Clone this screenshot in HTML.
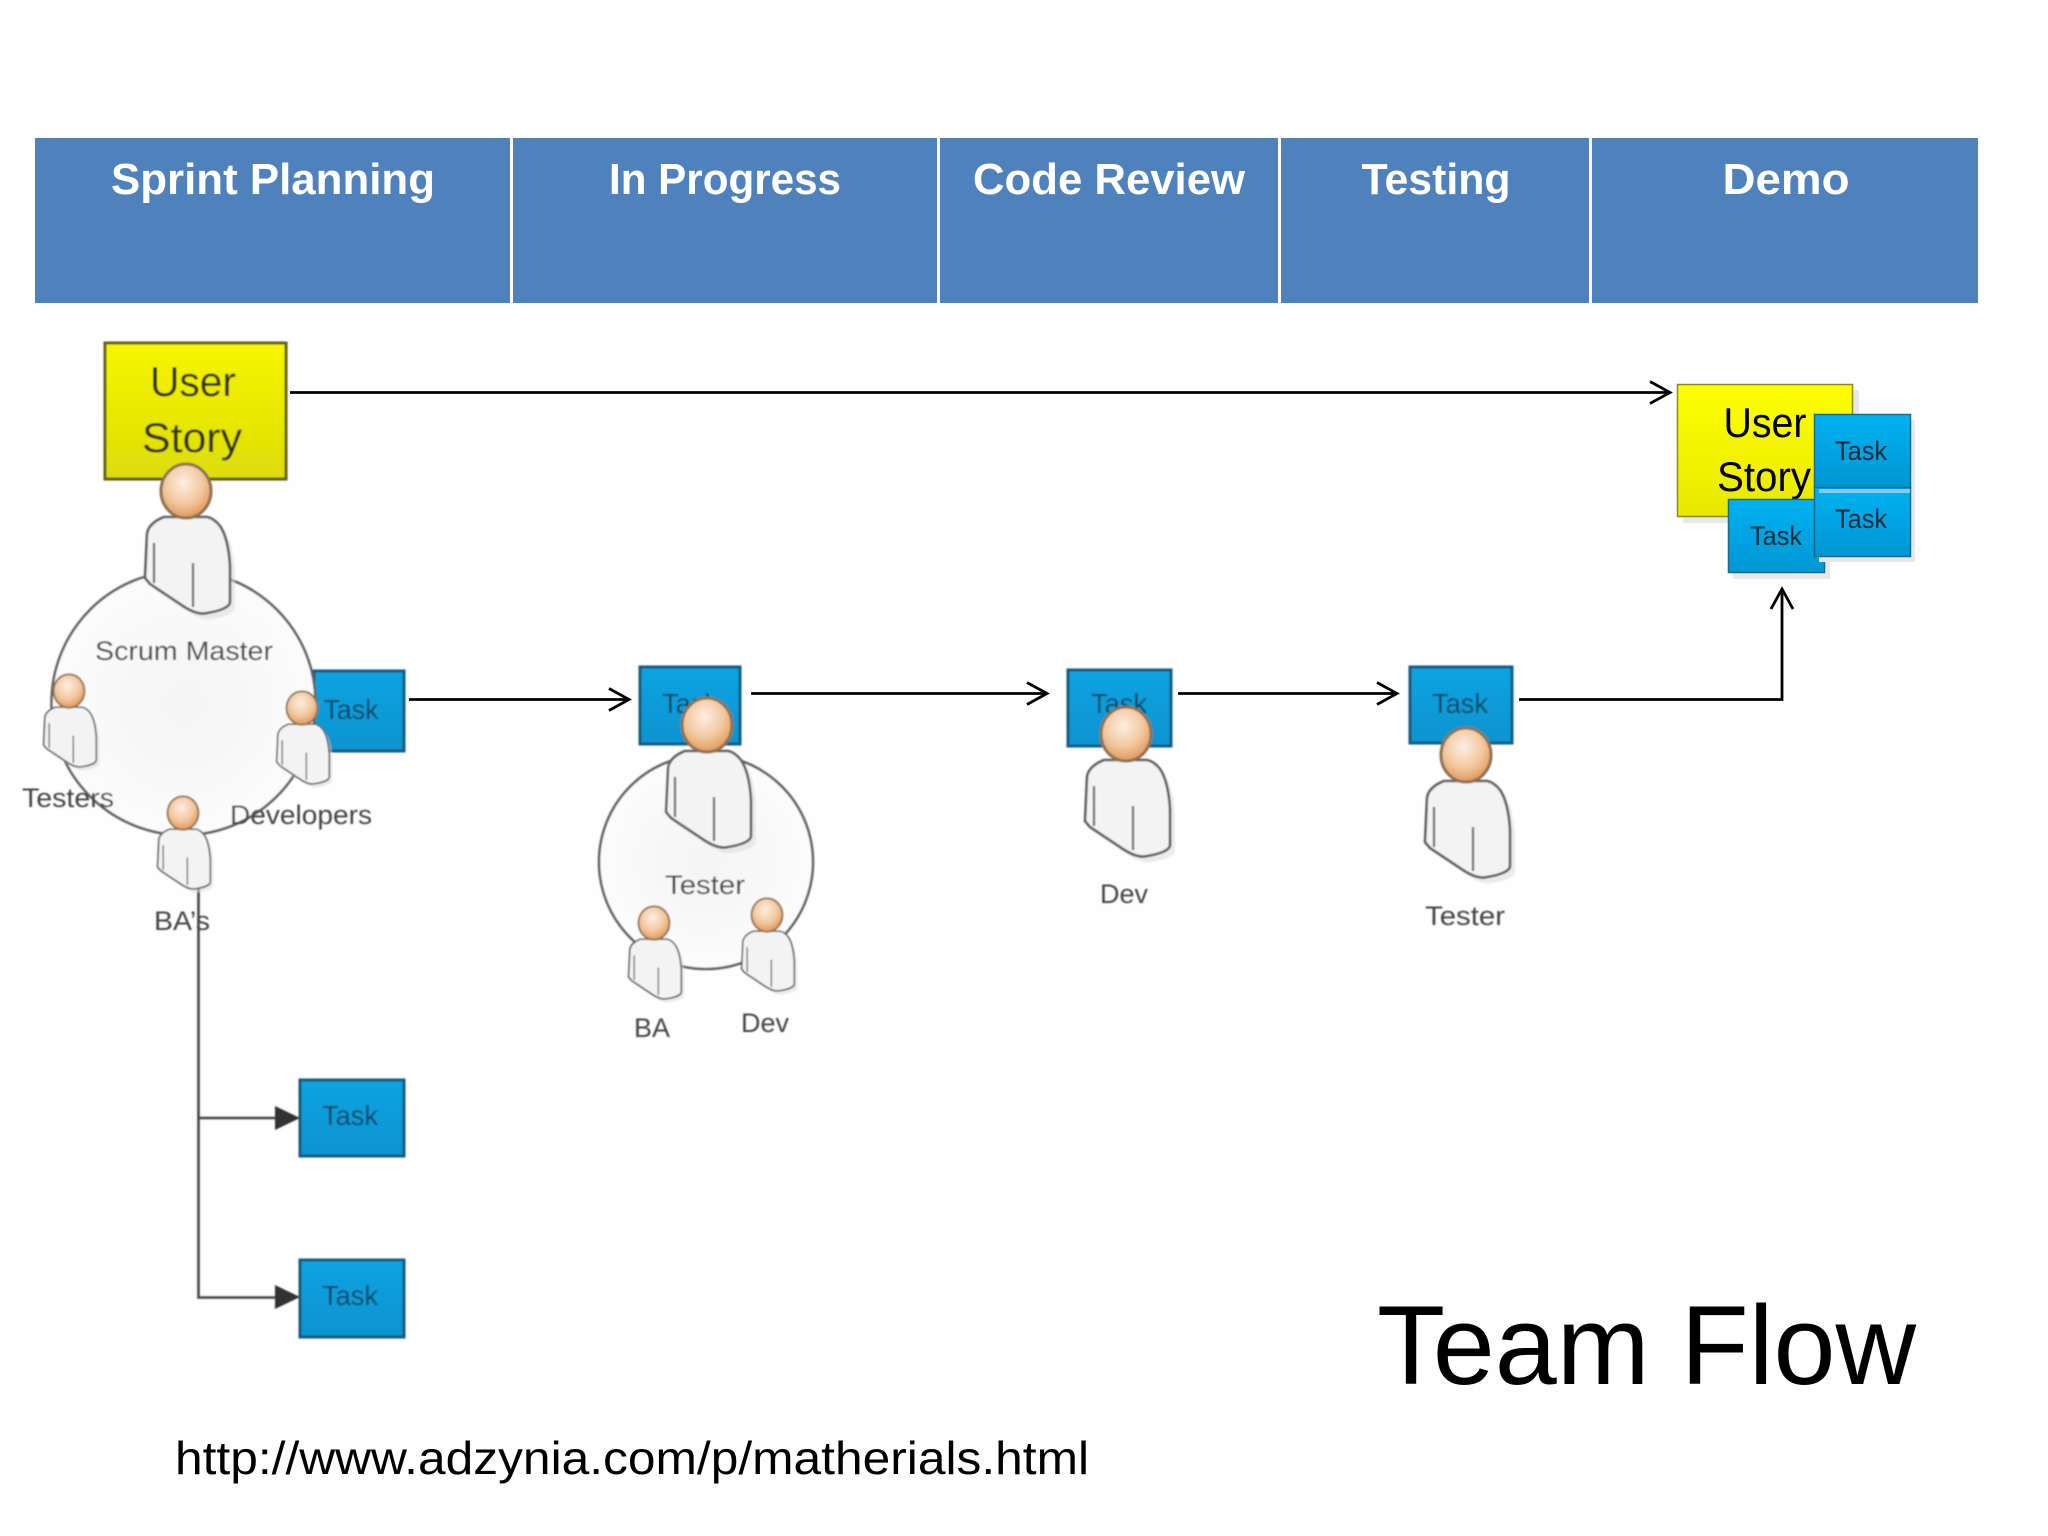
<!DOCTYPE html>
<html><head><meta charset="utf-8"><style>
html,body{margin:0;padding:0;background:#fff}
svg{display:block}
text{font-family:"Liberation Sans",sans-serif}
</style></head><body>
<svg xmlns="http://www.w3.org/2000/svg" width="2048" height="1536" viewBox="0 0 2048 1536">
<defs>
<linearGradient id="y" x1="0" y1="0" x2="0" y2="1"><stop offset="0" stop-color="#ffff00"/><stop offset="1" stop-color="#e8e800"/></linearGradient>
<linearGradient id="yl" x1="0" y1="0" x2="0" y2="1"><stop offset="0" stop-color="#f6f600"/><stop offset="1" stop-color="#dcdc08"/></linearGradient>
<linearGradient id="b" x1="0" y1="0" x2="0" y2="1"><stop offset="0" stop-color="#00b2f0"/><stop offset="1" stop-color="#0096d3"/></linearGradient>
<linearGradient id="b2" x1="0" y1="0" x2="0" y2="1"><stop offset="0" stop-color="#0fa3e2"/><stop offset="1" stop-color="#0a93d0"/></linearGradient>
<radialGradient id="h" cx=".45" cy=".35" r=".65"><stop offset="0" stop-color="#fdeee4"/><stop offset=".6" stop-color="#f2c79d"/><stop offset="1" stop-color="#e0995c"/></radialGradient>
<radialGradient id="c" cx=".5" cy=".5" r=".55"><stop offset="0" stop-color="#f4f4f4"/><stop offset="1" stop-color="#fcfcfc"/></radialGradient>
<filter id="soft" x="-5%" y="-5%" width="110%" height="110%"><feGaussianBlur stdDeviation="0.8"/></filter>
<g id="p">
<path d="M-22 26C-32 30 -38 36 -39 43L-41 87L-36 93L-6 113C4 120 14 124 21 122C34 120 44 116 44 111L44 75C43 58 40 44 34 35C30 30 26 27 21 26Z" transform="translate(5,6)" fill="#ddd" opacity=".55"/>
<path d="M-22 26C-32 30 -38 36 -39 43L-41 87L-36 93L-6 113C4 120 14 124 21 122C34 120 44 116 44 111L44 75C43 58 40 44 34 35C30 30 26 27 21 26Z" fill="#f3f3f3" stroke="#5f5f5f" stroke-width="2.6"/>
<path d="M-32 52V92M7 72V116" fill="none" stroke="#666" stroke-width="2.2"/>
<ellipse cx="0" cy="0" rx="25" ry="27" fill="url(#h)" stroke="#8f7150" stroke-width="3"/>
</g>
</defs>
<rect width="2048" height="1536" fill="#fff"/>
<rect x="50" y="330" width="1940" height="1190" fill="#fefefe"/>

<!-- header -->
<rect x="35" y="138" width="1943" height="165" fill="#4f81bd"/>
<path d="M511.5 138V303M938.5 138V303M1279.5 138V303M1590.5 138V303" stroke="#fff" stroke-width="3"/>
<g fill="#fff" font-weight="bold" font-size="44" text-anchor="middle">
<text x="273" y="194" textLength="324" lengthAdjust="spacingAndGlyphs">Sprint Planning</text>
<text x="725" y="194" textLength="232" lengthAdjust="spacingAndGlyphs">In Progress</text>
<text x="1109" y="194" textLength="272" lengthAdjust="spacingAndGlyphs">Code Review</text>
<text x="1436" y="194" textLength="149" lengthAdjust="spacingAndGlyphs">Testing</text>
<text x="1786" y="194" textLength="127" lengthAdjust="spacingAndGlyphs">Demo</text>
</g>

<!-- low-res picture part -->
<g filter="url(#soft)">
<rect x="105" y="343" width="181" height="136" fill="url(#yl)" stroke="#5e5e18" stroke-width="3"/>
<text x="193" y="396" font-size="42" fill="#2e2e0c" text-anchor="middle" textLength="86" lengthAdjust="spacingAndGlyphs">User</text>
<text x="192" y="452" font-size="42" fill="#2e2e0c" text-anchor="middle" textLength="100" lengthAdjust="spacingAndGlyphs">Story</text>

<!-- tasks -->
<rect x="314" y="671" width="90" height="80" fill="url(#b2)" stroke="#175a80" stroke-width="3"/>
<text x="351" y="719" font-size="28" fill="#0f465f" text-anchor="middle" textLength="55" lengthAdjust="spacingAndGlyphs">Task</text>
<rect x="640" y="667" width="100" height="77" fill="url(#b2)" stroke="#175a80" stroke-width="3"/>
<text x="690" y="713" font-size="28" fill="#0f465f" text-anchor="middle" textLength="56" lengthAdjust="spacingAndGlyphs">Task</text>
<rect x="1068" y="670" width="103" height="76" fill="url(#b2)" stroke="#175a80" stroke-width="3"/>
<text x="1119" y="713" font-size="28" fill="#0f465f" text-anchor="middle" textLength="56" lengthAdjust="spacingAndGlyphs">Task</text>
<rect x="1410" y="667" width="102" height="76" fill="url(#b2)" stroke="#175a80" stroke-width="3"/>
<text x="1460" y="713" font-size="28" fill="#0f465f" text-anchor="middle" textLength="56" lengthAdjust="spacingAndGlyphs">Task</text>
<rect x="300" y="1080" width="104" height="76" fill="url(#b2)" stroke="#175a80" stroke-width="3"/>
<text x="350" y="1125" font-size="28" fill="#0f465f" text-anchor="middle" textLength="56" lengthAdjust="spacingAndGlyphs">Task</text>
<rect x="300" y="1260" width="104" height="77" fill="url(#b2)" stroke="#175a80" stroke-width="3"/>
<text x="350" y="1305" font-size="28" fill="#0f465f" text-anchor="middle" textLength="56" lengthAdjust="spacingAndGlyphs">Task</text>

<!-- circles -->
<circle cx="183.500" cy="703" r="132" fill="url(#c)" stroke="#626262" stroke-width="2.600"/>
<circle cx="706" cy="862" r="107" fill="url(#c)" stroke="#626262" stroke-width="2.600"/>

<!-- BA line & arrows -->
<path d="M198.500 880V1297.500H285M198.500 1118H285" fill="none" stroke="#444" stroke-width="2.600"/>
<path d="M275 1106L300 1118L275 1130ZM275 1285L300 1297L275 1309Z" fill="#333"/>

<!-- persons -->
<use href="#p" transform="translate(186,491)"/>
<use href="#p" transform="translate(69,691) scale(.62)"/>
<use href="#p" transform="translate(302,708) scale(.62)"/>
<use href="#p" transform="translate(183,813) scale(.62)"/>
<use href="#p" transform="translate(707,725)"/>
<use href="#p" transform="translate(654,923) scale(.62)"/>
<use href="#p" transform="translate(767,915) scale(.62)"/>
<use href="#p" transform="translate(1126,734)"/>
<use href="#p" transform="translate(1466,755)"/>

<!-- labels -->
<g fill="#444" font-size="27" text-anchor="middle">
<text x="184" y="660" textLength="178" lengthAdjust="spacingAndGlyphs">Scrum Master</text>
<text x="68" y="807" textLength="92" lengthAdjust="spacingAndGlyphs">Testers</text>
<text x="301" y="824" textLength="142" lengthAdjust="spacingAndGlyphs">Developers</text>
<text x="182" y="930" textLength="56" lengthAdjust="spacingAndGlyphs">BA’s</text>
<text x="705" y="894" textLength="80" lengthAdjust="spacingAndGlyphs">Tester</text>
<text x="652" y="1037" textLength="36" lengthAdjust="spacingAndGlyphs">BA</text>
<text x="765" y="1032" textLength="48" lengthAdjust="spacingAndGlyphs">Dev</text>
<text x="1124" y="903" textLength="48" lengthAdjust="spacingAndGlyphs">Dev</text>
<text x="1465" y="925" textLength="80" lengthAdjust="spacingAndGlyphs">Tester</text>
</g>
</g>

<!-- black connectors -->
<g fill="none" stroke="#000" stroke-width="2.800">
<path d="M290 392.500H1669M1650 381.500L1670 392.500L1650 403.500"/>
<path d="M409 699.500H628M609 688.500L629 699.500L609 710.500"/>
<path d="M751 693.500H1046M1027 682.500L1047 693.500L1027 704.500"/>
<path d="M1178 693.500H1396M1377 682.500L1397 693.500L1377 704.500"/>
<path d="M1519 699.500H1782V590M1771 609L1782 589L1793 609"/>
</g>

<!-- demo cluster -->
<rect x="1683" y="390" width="176" height="133" fill="#e8e8e8"/>
<rect x="1677.500" y="384.500" width="175" height="132" fill="url(#y)" stroke="#8a8a20" stroke-width="1.500"/>
<text x="1765" y="437" font-size="42" fill="#000" text-anchor="middle" textLength="83" lengthAdjust="spacingAndGlyphs">User</text>
<text x="1764" y="491" font-size="42" fill="#000" text-anchor="middle" textLength="94" lengthAdjust="spacingAndGlyphs">Story</text>
<rect x="1733" y="505" width="97" height="74" fill="#e8e8e8"/>
<rect x="1728.500" y="499.500" width="96" height="73" fill="url(#b)" stroke="#1c6a8e" stroke-width="1.500"/>
<text x="1776" y="545" font-size="27" fill="#062a3c" text-anchor="middle" textLength="52" lengthAdjust="spacingAndGlyphs">Task</text>
<rect x="1819" y="420" width="96" height="142" fill="#e8e8e8"/>
<rect x="1814.500" y="487.500" width="96" height="69" fill="url(#b)" stroke="#1c6a8e" stroke-width="1.500"/>
<rect x="1814.500" y="414.500" width="96" height="73" fill="url(#b)" stroke="#1c6a8e" stroke-width="1.500"/>
<rect x="1819" y="489" width="91" height="4" fill="#7fcdea"/>
<text x="1861" y="460" font-size="27" fill="#062a3c" text-anchor="middle" textLength="52" lengthAdjust="spacingAndGlyphs">Task</text>
<text x="1861" y="528" font-size="27" fill="#062a3c" text-anchor="middle" textLength="52" lengthAdjust="spacingAndGlyphs">Task</text>

<!-- titles -->
<text x="1377" y="1384" font-size="112" fill="#000" textLength="539" lengthAdjust="spacingAndGlyphs">Team Flow</text>
<text x="175" y="1474" font-size="46" fill="#000" textLength="914" lengthAdjust="spacingAndGlyphs">http://www.adzynia.com/p/matherials.html</text>
</svg>
</body></html>
